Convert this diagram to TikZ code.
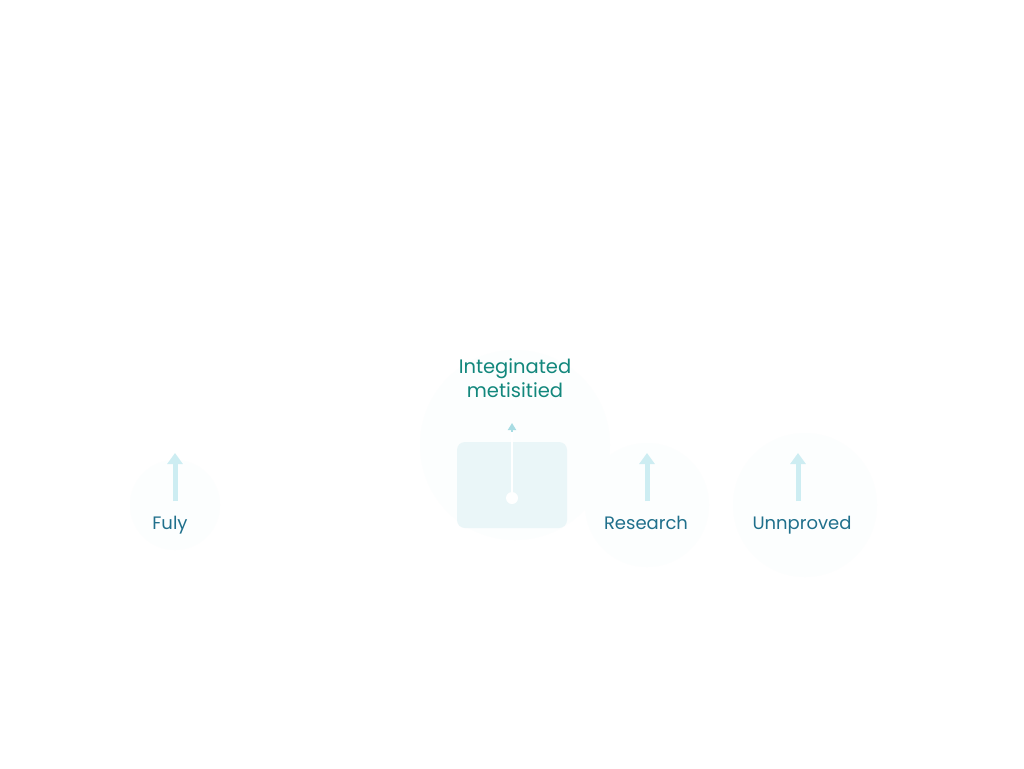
\documentclass[tikz,border=0pt]{standalone}
\usepackage{fontspec}
\setmainfont{Poppins}
\usetikzlibrary{arrows.meta}
\definecolor{arrowc}{HTML}{CDEDF2}
\definecolor{arrowd}{HTML}{A8DCE3}
\definecolor{labelc}{HTML}{20708C}
\definecolor{titlec}{HTML}{12877C}
\definecolor{boxc}{HTML}{EAF6F8}
\definecolor{haloc}{HTML}{FCFEFE}
\tikzset{
  fatarrow/.style={draw=arrowc, line width=5pt, -{Triangle[width=15pt,length=11pt]}},
  thinarrow/.style={draw=arrowd, line width=2pt, -{Triangle[width=8pt,length=7pt]}},
  lbl/.style={text=labelc, font=\fontsize{18pt}{22pt}\selectfont, inner sep=0pt, anchor=base},
  ttl/.style={text=titlec, font=\fontsize{19.5pt}{24pt}\selectfont, align=center, inner sep=0pt},
  halo/.style={fill=haloc, draw=none},
}
\begin{document}
\begin{tikzpicture}[x=1pt,y=-1pt]
\useasboundingbox[fill=white] (0,0) rectangle (1024,768);
% faint halos
\fill[halo] (175,505) circle (45);
\fill[halo] (647,505) circle (62);
\fill[halo] (805,505) circle (72);
\fill[halo] (515,445) circle (95);
% central box
\node[fill=boxc, rounded corners=8pt, minimum width=110pt, minimum height=86pt, inner sep=0pt] (box) at (512,485) {};
\coordinate (ctop) at (512,442);
\coordinate (ctip) at (512,423);
\coordinate (cbot) at (512,498);
\draw[thinarrow] (ctop) -- (ctip);
\draw[white, line width=2pt] (512,432) -- (cbot);
\fill[white] (cbot) circle (6pt);
% title
\node[ttl] (title) at (515,378) {Integinated\\metisitied};
% side arrows and labels
\coordinate (a1b) at (175,501); \coordinate (a1t) at (175,453);
\coordinate (a2b) at (647,501); \coordinate (a2t) at (647,453);
\coordinate (a3b) at (798,501); \coordinate (a3t) at (798,453);
\draw[fatarrow] (a1b) -- (a1t);
\draw[fatarrow] (a2b) -- (a2t);
\draw[fatarrow] (a3b) -- (a3t);
\node[lbl] (l1) at (170,529) {Fuly};
\node[lbl] (l2) at (646,529) {Research};
\node[lbl] (l3) at (802,529) {Unnproved};
\end{tikzpicture}
\end{document}
